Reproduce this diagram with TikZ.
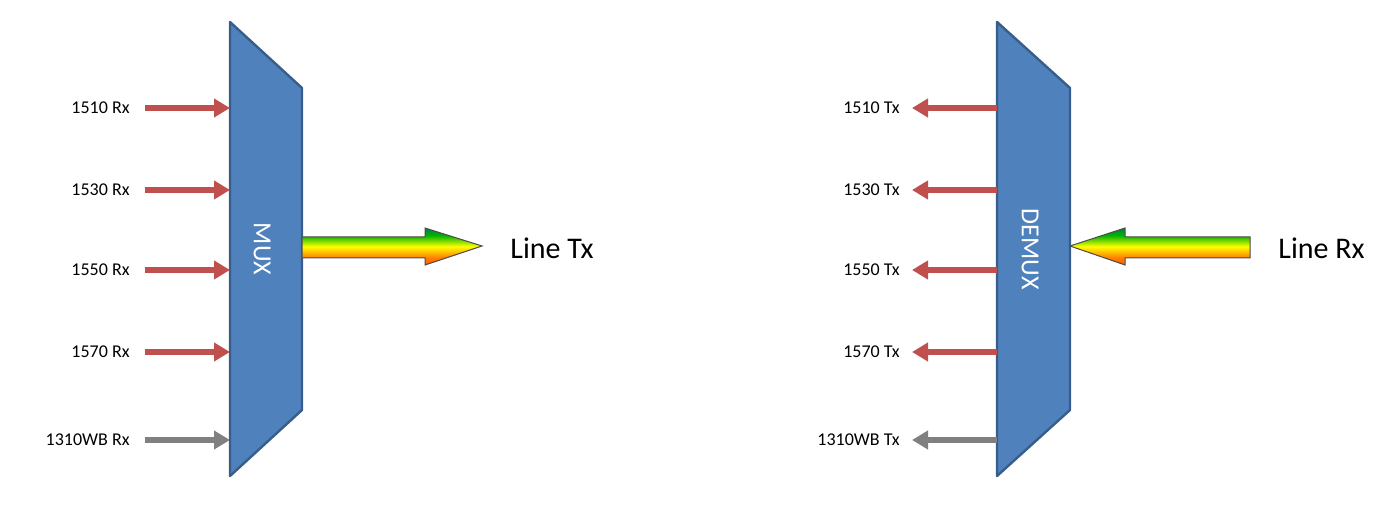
\documentclass[tikz,border=0pt]{standalone}
\usepackage{fontspec}
\setmainfont{Carlito}
\usetikzlibrary{positioning,arrows.meta}
\definecolor{muxblue}{HTML}{4F81BD}
\definecolor{muxedge}{HTML}{385D8A}
\definecolor{sigred}{HTML}{C0504D}
\pgfdeclareverticalshading{rainbow}{100bp}{color(0bp)=(red); color(35bp)=(orange); color(50bp)=(yellow); color(65bp)=(green!70!black); color(100bp)=(blue)}
\begin{document}
\begin{tikzpicture}[x=0.5pt,y=-0.5pt,
                    muxbox/.style={fill=muxblue,draw=muxedge,line width=1.2pt,line join=round},
                    chan/.style={line width=3pt,sigred,-{Triangle[length=8pt,width=9pt]}},
                    wbchan/.style={chan,gray},
                    lbl/.style={font=\fontsize{9}{10}\selectfont,anchor=east,inner sep=0pt},
                    line/.style={font=\fontsize{15}{16}\selectfont,anchor=west,inner sep=0pt},
                    rainbowarrow/.style={shading=rainbow,draw=black!70,line width=0.5pt}
                ]
    \useasboundingbox (0,0) rectangle (1400,506);
    % multiplexer
    \draw[muxbox] (230,22) -- (302,88) -- (302,410) -- (230,476) -- cycle;
    \node[white,rotate=-90,font=\fontsize{13}{14}\selectfont] (mux) at (262,249) {MUX};
    \foreach \y/\w in {108/1510,190/1530,270/1550,352/1570}
        {
        \node[lbl] (rx\w) at (130,\y) {\w{} Rx};
        \coordinate (in\w) at (230,\y);
        \draw[chan] (145,\y) -- (in\w);
    }
    \node[lbl] (rxwb) at (130,440) {1310WB Rx};
    \coordinate (inwb) at (230,440);
    \draw[wbchan] (145,440) -- (inwb);
    \draw[rainbowarrow] (302,237) -- (425,237) -- (425,228) -- (482,246) -- (425,265) -- (425,258) -- (302,258) -- cycle;
    \node[line] (linetx) at (510,248) {Line Tx};
    % demultiplexer
    \draw[muxbox] (997,22) -- (1070,88) -- (1070,410) -- (997,476) -- cycle;
    \node[white,rotate=-90,font=\fontsize{13}{14}\selectfont] (demux) at (1030,249) {DEMUX};
    \foreach \y/\w in {108/1510,190/1530,270/1550,352/1570}
        {
        \node[lbl] (tx\w) at (900,\y) {\w{} Tx};
        \coordinate (out\w) at (997,\y);
        \draw[chan] (out\w) -- (912,\y);
    }
    \node[lbl] (txwb) at (900,440) {1310WB Tx};
    \coordinate (outwb) at (997,440);
    \draw[wbchan] (outwb) -- (912,440);
    \draw[rainbowarrow] (1250,237) -- (1125,237) -- (1125,228) -- (1070,246) -- (1125,265) -- (1125,258) -- (1250,258) -- cycle;
    \node[line] (linerx) at (1278,248) {Line Rx};
\end{tikzpicture}
\end{document}
